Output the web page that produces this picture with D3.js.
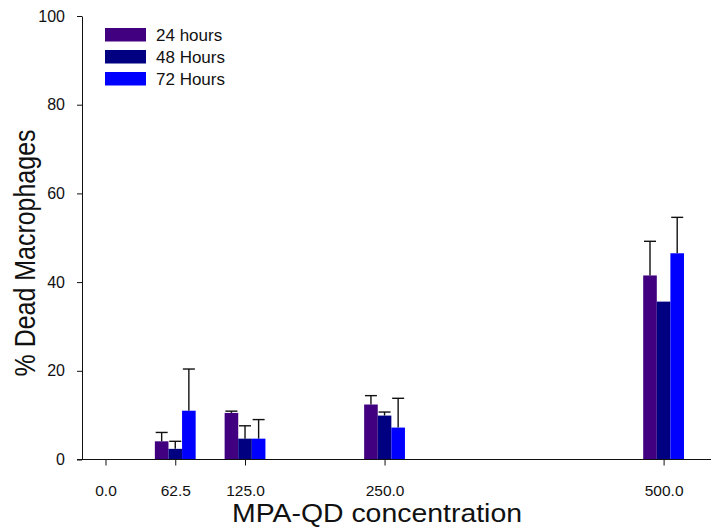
<!DOCTYPE html>
<html>
<head>
<meta charset="utf-8">
<script src="https://cdn.jsdelivr.net/npm/d3@7"></script>
<style>
  body { margin: 0; background: #fff; }
  text { font-family: "Liberation Sans", Arial, sans-serif; fill: #111; }
</style>
</head>
<body>
<script>
// concentrations on the x axis
var concentrations = [62.5, 125.0, 250.0, 500.0];
var xTicks = [0, 62.5, 125, 250, 500];
var yTicks = [0, 20, 40, 60, 80, 100];
var seriesNames = ["24 hours", "48 Hours", "72 Hours"];
var seriesColors = ["#40007f", "#000080", "#0000ff"];

// mean % dead and upper error (value + sd) per series
var means24 = [4.1, 10.5, 12.4, 41.5];
var err24   = [6.1, 10.9, 14.4, 49.2];
var means48 = [2.4, 4.7, 9.9, 35.6];
var err48   = [4.1, 7.6, 10.7, 35.6];
var means72 = [11.0, 4.7, 7.2, 46.5];
var err72   = [20.4, 9.0, 13.8, 54.6];

var means = [means24, means48, means72];
var errs = [err24, err48, err72];

var W = 713, H = 529;
var svg = d3.select("body").append("svg")
    .attr("width", W)
    .attr("height", H);

var x = d3.scaleLinear().domain([0, 500]).range([105.5, 663.6]);
var y = d3.scaleLinear().domain([0, 100]).range([459.5, 16]);

var barW = 13.6;

// bars
for (var s = 0; s < 3; s++) {
  var g = svg.append("g");
  g.selectAll("rect").data(concentrations).enter().append("rect")
    .attr("x", function(d) { return x(d) - 1.5 * barW + s * barW; })
    .attr("y", function(d, i) { return y(means[s][i]); })
    .attr("width", barW)
    .attr("height", function(d, i) { return y(0) - y(means[s][i]); })
    .style("fill", seriesColors[s]);
}

// error bars (upper only)
for (var s = 0; s < 3; s++) {
  var eg = svg.append("g").attr("stroke", "#111").attr("stroke-width", 1.4);
  concentrations.forEach(function(d, i) {
    if (errs[s][i] <= means[s][i]) return;
    var cx = x(d) - 1.5 * barW + s * barW + barW / 2;
    eg.append("line")
      .attr("x1", cx).attr("x2", cx)
      .attr("y1", y(means[s][i])).attr("y2", y(errs[s][i]));
    eg.append("line")
      .attr("x1", cx - 6).attr("x2", cx + 6)
      .attr("y1", y(errs[s][i])).attr("y2", y(errs[s][i]));
  });
}

// y axis
var yAxis = d3.axisLeft(y).tickValues(yTicks).tickSize(5).tickSizeOuter(0).tickPadding(12)
    .tickFormat(d3.format("d"));
var yg = svg.append("g").attr("transform", "translate(82,0)").call(yAxis);
yg.select(".domain").attr("stroke", "#111");
yg.selectAll("line").attr("stroke", "#111");
yg.selectAll("text").style("font-size", "16px");

// x axis line
svg.append("line")
  .attr("x1", 77).attr("x2", 711)
  .attr("y1", y(0)).attr("y2", y(0))
  .attr("stroke", "#111");

var xAxis = d3.axisBottom(x).tickValues(xTicks).tickSize(6).tickSizeOuter(0).tickPadding(19)
    .tickFormat(d3.format(".1f"));
var xg = svg.append("g").attr("transform", "translate(0," + y(0) + ")").call(xAxis);
xg.select(".domain").remove();
xg.selectAll("line").attr("stroke", "#111");
xg.selectAll("text").style("font-size", "15.5px");

// titles
svg.append("text")
  .attr("x", 377).attr("y", 522)
  .attr("text-anchor", "middle")
  .attr("textLength", 290)
  .attr("lengthAdjust", "spacingAndGlyphs")
  .style("font-size", "25px")
  .text("MPA-QD concentration");

svg.append("text")
  .attr("transform", "translate(35,253) rotate(-90)")
  .attr("text-anchor", "middle")
  .attr("textLength", 247)
  .attr("lengthAdjust", "spacingAndGlyphs")
  .style("font-size", "30px")
  .text("% Dead Macrophages");

// legend
var leg = svg.append("g").attr("transform", "translate(105,28)");
seriesNames.forEach(function(n, i) {
  leg.append("rect")
    .attr("x", 0).attr("y", i * 22)
    .attr("width", 41).attr("height", 13.5)
    .style("fill", seriesColors[i]);
  leg.append("text")
    .attr("x", 51).attr("y", i * 22 + 12.5)
    .style("font-size", "17px")
    .text(n);
});
</script>
</body>
</html>
